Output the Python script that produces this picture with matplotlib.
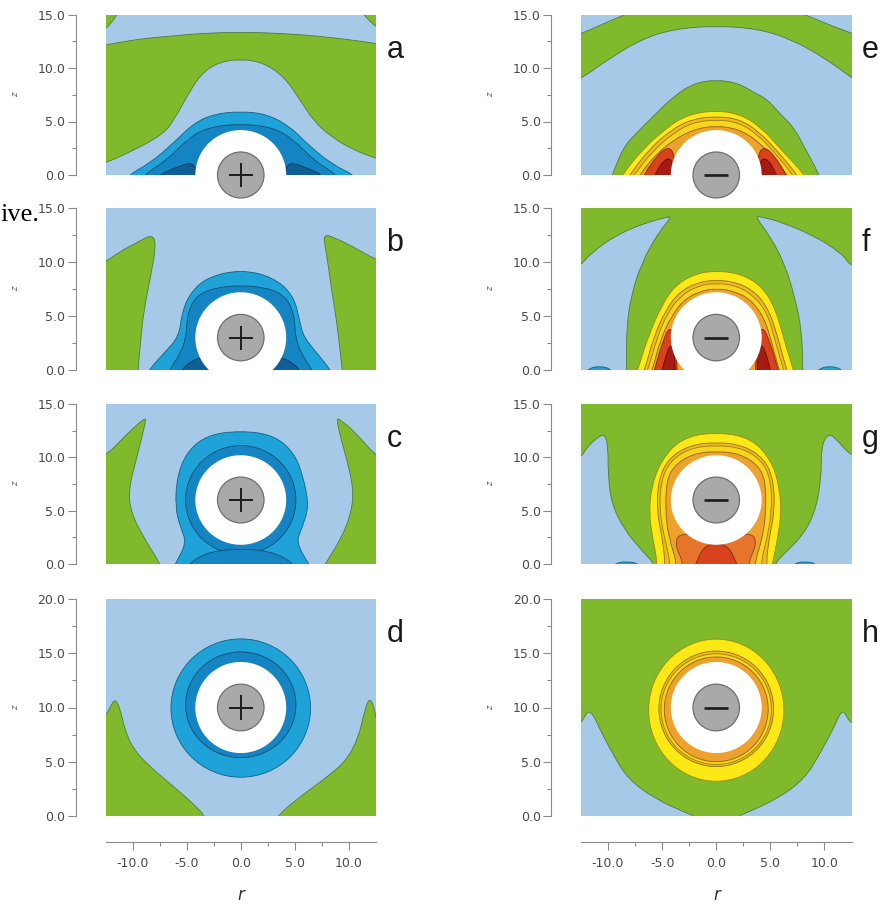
import numpy as np
import matplotlib
matplotlib.use("Agg")
import matplotlib.pyplot as plt
from matplotlib.path import Path
from matplotlib.patches import PathPatch, Circle, Ellipse
from matplotlib.colors import to_rgb

W, H = 882, 907

# colours of the contour levels
LBLUE = '#a5c9e6'
GREEN = '#80ba2c'
BLUE1 = '#1ea2d8'
BLUE2 = '#1584c2'
BLUE3 = '#0e5f96'
YELLOW = '#fbe814'
GOLD = '#efb720'
YELLOW2 = '#f8d51c'
ORANGE = '#eca22c'
ORANGE2 = '#e6742a'
RED = '#d8421c'
DRED = '#a51a12'

# ion heights above the surface and plot heights
ion_z = {'a': 0, 'b': 3, 'c': 6, 'd': 10, 'e': 0, 'f': 3, 'g': 6, 'h': 10}
z_top = {'a': 15, 'b': 15, 'c': 15, 'd': 20, 'e': 15, 'f': 15, 'g': 15, 'h': 20}
EXCL_R = 4.2      # white excluded zone
ION_R = 2.15      # grey ion

# ---- contour boundaries, (r, z) ----
# a  (cation at z = 0)
a_green_top = [(-13.5, -1), (-13.5, 12.0), (-12.5, 12.15), (-9.5, 12.7), (-6.8, 12.95), (-3.5, 13.25),
               (0, 13.35), (3.5, 13.25), (7.0, 13.0), (10.0, 12.65), (12.5, 12.3), (13.5, 12.1), (13.5, -1)]
a_corner_l = [(-13.5, 13.2), (-12.5, 13.65), (-11.9, 14.3), (-11.3, 15.2), (-11.0, 16), (-13.5, 16)]
a_corner_r = [(13.5, 13.4), (12.5, 13.85), (11.8, 14.5), (11.2, 15.2), (11.0, 16), (13.5, 16)]
a_bell = [(-13.5, -1), (-13.5, 0.9), (-12.5, 1.1), (-9.3, 2.6), (-7.1, 3.9), (-6.2, 5.1), (-5.0, 7.3),
          (-3.75, 9.35), (-2.2, 10.5), (0, 10.85), (2.1, 10.5), (4.0, 9.2), (5.5, 7.0), (6.7, 5.1),
          (8.3, 3.6), (10.4, 2.35), (12.5, 1.55), (13.5, 1.3), (13.5, -1)]
a_blue1 = [(-10.9, -1), (-10.4, 0), (-8.4, 1.1), (-6.2, 3.0), (-4.4, 4.8), (-2.5, 5.7), (0, 5.95),
           (2.4, 5.7), (4.6, 4.5), (6.4, 2.65), (8.6, 0.9), (10.5, 0), (11.0, -1)]
a_blue2 = [(-9.5, -1), (-9.0, 0), (-6.8, 1.4), (-5.0, 3.3), (-3.1, 4.45), (0, 4.8), (3.0, 4.45),
           (4.9, 3.3), (6.7, 1.4), (8.9, 0), (9.4, -1)]
a_blue3_l = [(-8.0, -1), (-7.6, 0), (-6.0, 0.7), (-4.6, 1.2), (-4.1, 0.6), (-4.1, -1)]
a_blue3_r = [(4.1, -1), (4.1, 0.6), (4.6, 1.2), (6.0, 0.7), (7.6, 0), (8.0, -1)]

# b  (cation at z = 3)
b_green_l = [(-13.5, -1), (-13.5, 9.8), (-12.5, 10.0), (-11.2, 10.95), (-9.3, 11.95), (-8.2, 12.55),
             (-7.8, 11.6), (-8.4, 8.3), (-9.0, 5.25), (-9.3, 2.2), (-9.5, 0), (-9.5, -1)]
b_green_r = [(13.5, -1), (13.5, 10.0), (12.5, 10.2), (10.4, 11.4), (8.6, 12.3), (7.6, 12.55),
             (7.9, 11.0), (8.4, 7.4), (8.9, 4.3), (9.2, 1.55), (9.4, 0), (9.4, -1)]
b_blue1 = [(-9.0, -1), (-8.5, 0), (-7.1, 1.55), (-5.7, 3.1), (-5.45, 5.25), (-4.7, 7.1), (-3.1, 8.6),
           (0, 9.3), (3.0, 8.6), (4.9, 6.9), (5.5, 4.3), (5.8, 3.1), (7.05, 1.55), (8.3, 0), (8.8, -1)]
b_blue2 = [(-7.0, -1), (-6.6, 0), (-5.6, 1.5), (-5.05, 3.0), (-5.0, 4.5), (-4.7, 5.8), (-4.0, 6.9),
           (-2.5, 7.6), (0, 7.85), (2.5, 7.6), (4.0, 6.9), (4.7, 5.8), (5.0, 4.5), (5.05, 3.0),
           (5.6, 1.5), (6.6, 0), (7.0, -1)]
b_blue3_l = [(-5.9, -1), (-5.5, 0), (-4.6, 0.8), (-3.6, 1.2), (-2.9, 0.4), (-2.9, -1)]
b_blue3_r = [(2.9, -1), (2.9, 0.4), (3.6, 1.2), (4.6, 0.8), (5.5, 0), (5.9, -1)]

# c  (cation at z = 6)
c_green_l = [(-13.5, -1), (-13.5, 9.9), (-12.4, 10.2), (-10.5, 12.2), (-9.2, 13.4), (-8.75, 13.7),
             (-8.9, 12.9), (-9.6, 10.0), (-10.4, 6.9), (-10.1, 4.7), (-9.0, 2.55), (-7.45, 0), (-7.0, -1)]
c_green_r = [(13.5, -1), (13.5, 9.8), (12.6, 10.0), (10.45, 12.5), (9.2, 13.5), (8.85, 13.7),
             (9.2, 11.9), (10.0, 9.1), (10.45, 6.6), (10.1, 4.4), (9.2, 2.25), (7.8, 0), (7.3, -1)]
c_blue1 = [(-6.5, -1), (-6.05, 0), (-5.0, 2.0), (-5.6, 3.5), (-6.05, 5.35), (-5.9, 8.15), (-5.0, 10.5),
           (-3.1, 12.1), (0, 12.5), (3.0, 12.1), (4.9, 10.5), (5.8, 8.15), (6.3, 5.35), (5.7, 3.5),
           (5.1, 2.0), (6.3, 0), (6.8, -1)]
c_ring = (6.0, 10.2, 10.2)            # centre z, width, height
c_arch = [(-5.2, -1), (-4.8, 0), (-3.5, 0.9), (-1.8, 1.3), (0, 1.4), (1.8, 1.3), (3.5, 0.9),
          (4.9, 0), (5.3, -1)]

# d  (cation at z = 10)
d_green_l = [(-13.5, -1), (-13.5, 9.0), (-12.5, 9.15), (-12.0, 10.2), (-11.6, 10.8), (-11.15, 9.9),
             (-10.7, 7.9), (-9.9, 6.1), (-8.4, 4.55), (-6.2, 2.7), (-4.4, 1.15), (-3.3, 0), (-3.0, -1)]
d_green_r = [(13.5, -1), (13.5, 8.4), (12.6, 8.5), (12.3, 10.2), (11.85, 10.9), (11.4, 9.5),
             (10.9, 7.3), (9.8, 5.15), (8.0, 3.6), (5.5, 1.8), (3.35, 0), (3.0, -1)]
d_ring1 = (9.95, 12.9, 12.75)
d_ring2 = (10.25, 10.2, 9.75)

# e  (anion at z = 0)
e_green_out = [(-13.5, -1), (-13.5, 12.9), (-12.5, 13.2), (-10.5, 14.1), (-8.2, 15.1), (-5.0, 16.2),
               (0, 16.8), (5.0, 16.2), (7.9, 15.1), (10.3, 14.1), (12.35, 13.3), (13.5, 12.9), (13.5, -1)]
e_blue_in = [(-13.5, -1), (-13.5, 8.6), (-12.5, 9.0), (-10.0, 10.8), (-6.9, 12.7), (-3.9, 13.65),
             (0, 13.95), (3.9, 13.65), (6.9, 12.7), (10.0, 10.95), (12.35, 9.2), (13.5, 8.5), (13.5, -1)]
e_green_dome = [(-10.0, -1), (-9.6, 0), (-8.6, 2.6), (-7.2, 4.1), (-5.8, 5.5), (-3.9, 7.4), (-2.0, 8.6),
                (0, 8.9), (2.0, 8.6), (3.5, 7.7), (4.7, 7.1), (5.8, 5.8), (7.15, 4.5), (8.3, 2.3),
                (9.3, 0.45), (9.9, -1)]
e_yellow = [(-9.2, -1), (-8.7, 0), (-6.9, 2.3), (-4.5, 4.5), (-2.6, 5.65), (0, 6.05), (2.3, 5.65),
            (4.2, 4.4), (6.0, 2.35), (8.2, 0), (8.7, -1)]
e_gold = [(-8.6, -1), (-8.0, 0), (-6.3, 2.3), (-4.2, 4.2), (-2.3, 5.2), (0, 5.5), (2.2, 5.2),
          (4.0, 4.0), (5.6, 2.3), (7.5, 0), (8.0, -1)]
e_yellow2 = [(-8.2, -1), (-7.6, 0), (-6.0, 2.1), (-4.0, 3.9), (-2.2, 4.9), (0, 5.2), (2.1, 4.9),
             (3.8, 3.8), (5.3, 2.2), (7.1, 0), (7.6, -1)]
e_orange = [(-7.6, -1), (-7.1, 0), (-5.6, 1.9), (-3.9, 3.3), (-2.0, 4.3), (0, 4.6), (2.0, 4.3),
            (3.7, 3.3), (5.0, 1.9), (6.6, 0), (7.1, -1)]
e_red_l = [(-7.0, -1), (-6.7, 0), (-5.5, 1.8), (-4.4, 2.7), (-3.8, 1.8), (-3.8, -1)]
e_red_r = [(3.8, -1), (3.8, 1.8), (4.4, 2.7), (5.4, 1.8), (6.5, 0), (6.8, -1)]
e_dred_l = [(-6.0, -1), (-5.7, 0), (-4.8, 1.5), (-4.0, 1.5), (-4.0, -1)]
e_dred_r = [(4.0, -1), (4.0, 1.5), (4.8, 1.5), (5.6, 0), (5.9, -1)]

# f  (anion at z = 3)
f_blue_l = [(-13.5, -1), (-13.5, 9.3), (-12.65, 9.55), (-11.6, 10.8), (-9.4, 12.4), (-6.9, 13.5),
            (-4.6, 14.15), (-4.1, 14.2), (-5.4, 12.65), (-6.9, 9.9), (-7.9, 6.8), (-8.3, 3.7),
            (-8.3, 0), (-8.3, -1)]
f_blue_r = [(13.5, -1), (13.5, 9.5), (12.35, 9.7), (11.6, 10.8), (9.1, 12.4), (6.0, 13.7),
            (4.1, 14.2), (3.6, 14.2), (4.9, 12.5), (6.3, 9.9), (7.25, 6.8), (7.9, 3.7), (8.0, 0), (8.0, -1)]
f_sliver_l = [(-12.3, -1), (-12.0, 0.05), (-10.8, 0.4), (-9.6, 0.05), (-9.3, -1)]
f_sliver_r = [(9.0, -1), (9.3, 0.05), (10.5, 0.4), (11.7, 0.05), (12.0, -1)]
f_yellow = [(-7.7, -1), (-7.25, 0), (-6.3, 3.1), (-5.1, 5.85), (-3.9, 7.75), (-2.0, 8.9), (0, 9.2),
            (2.3, 8.9), (4.2, 7.75), (5.4, 5.85), (6.2, 3.1), (7.1, 0), (7.5, -1)]
f_gold = [(-7.1, -1), (-6.6, 0), (-5.8, 3.0), (-4.7, 5.5), (-3.5, 7.15), (-1.8, 8.1), (0, 8.35),
          (2.0, 8.1), (3.7, 7.15), (4.9, 5.5), (5.7, 3.0), (6.5, 0), (6.9, -1)]
f_yellow2 = [(-6.8, -1), (-6.3, 0), (-5.5, 2.9), (-4.5, 5.3), (-3.3, 6.85), (-1.7, 7.8), (0, 8.05),
             (1.9, 7.8), (3.5, 6.85), (4.7, 5.3), (5.4, 2.9), (6.2, 0), (6.6, -1)]
f_orange = [(-6.4, -1), (-5.9, 0), (-5.2, 2.7), (-4.2, 4.9), (-3.0, 6.5), (-1.5, 7.3), (0, 7.55),
            (1.7, 7.3), (3.2, 6.5), (4.4, 4.9), (5.1, 2.7), (5.8, 0), (6.2, -1)]
f_red_l = [(-6.1, -1), (-5.7, 0), (-5.0, 2.5), (-4.3, 4.1), (-3.8, 3.0), (-3.6, 0), (-3.6, -1)]
f_red_r = [(3.6, -1), (3.6, 0), (3.8, 3.0), (4.3, 4.1), (5.0, 2.5), (5.7, 0), (6.1, -1)]
f_dred_l = [(-5.3, -1), (-5.0, 0), (-4.5, 1.9), (-4.1, 2.4), (-3.8, 1.0), (-3.8, -1)]
f_dred_r = [(3.8, -1), (3.8, 1.0), (4.1, 2.4), (4.5, 1.9), (5.0, 0), (5.3, -1)]

# g  (anion at z = 6)
g_blue_l = [(-13.5, -1), (-13.5, 9.8), (-12.5, 10.0), (-11.9, 11.0), (-11.0, 11.85), (-10.3, 12.2),
            (-10.0, 11.0), (-10.0, 8.5), (-9.7, 5.7), (-8.5, 3.2), (-6.65, 1.0), (-5.7, 0), (-5.4, -1)]
g_blue_r = [(13.5, -1), (13.5, 10.0), (12.35, 10.2), (11.0, 11.85), (10.3, 12.2), (9.7, 11.0),
            (9.7, 7.85), (9.1, 4.75), (7.9, 2.55), (6.3, 1.0), (5.4, 0), (5.1, -1)]
g_sliver_l = [(-9.8, -1), (-9.5, 0.03), (-8.3, 0.25), (-7.1, 0.03), (-6.8, -1)]
g_sliver_r = [(6.8, -1), (7.1, 0.03), (8.2, 0.25), (9.3, 0.03), (9.6, -1)]
g_yellow = [(-5.8, -1), (-5.4, 0), (-5.9, 2.55), (-6.2, 4.75), (-6.0, 7.2), (-5.1, 9.7), (-3.25, 11.8),
            (0, 12.4), (3.25, 11.8), (5.1, 9.7), (5.85, 7.2), (6.0, 4.75), (5.7, 2.55), (5.2, 0), (4.9, -1)]
g_gold = [(-5.0, -1), (-4.7, 0), (-5.0, 2.5), (-5.5, 5.0), (-5.35, 7.8), (-4.5, 9.8), (-2.6, 11.1),
          (0, 11.45), (2.6, 11.1), (4.5, 9.8), (5.3, 7.8), (5.4, 5.0), (4.9, 2.5), (4.6, 0), (4.9, -1)]
g_yellow2 = [(-4.5, -1), (-4.2, 0), (-4.8, 2.5), (-5.25, 5.0), (-5.1, 7.8), (-4.3, 9.6), (-2.5, 10.85),
             (0, 11.15), (2.5, 10.85), (4.3, 9.6), (5.05, 7.8), (5.15, 5.0), (4.7, 2.5), (4.1, 0), (4.4, -1)]
g_orange = [(-3.9, -1), (-3.6, 0), (-4.4, 2.5), (-4.7, 5.0), (-4.6, 7.8), (-3.9, 9.2), (-2.3, 10.3),
            (0, 10.6), (2.3, 10.3), (3.9, 9.2), (4.55, 7.8), (4.6, 5.0), (4.3, 2.5), (3.5, 0), (3.8, -1)]
g_orange2 = [(-3.4, -1), (-3.0, 0), (-3.9, 2.0), (-3.2, 3.0), (0, 2.2), (3.2, 3.0), (3.8, 2.0),
             (2.9, 0), (3.3, -1)]
g_red = [(-2.3, -1), (-1.9, 0), (-1.2, 1.6), (0, 2.0), (1.2, 1.6), (1.9, 0), (2.3, -1)]

# h  (anion at z = 10)
h_blue_l = [(-13.5, -1), (-13.5, 8.4), (-12.5, 8.55), (-12.1, 9.3), (-11.75, 9.7), (-11.3, 9.2),
            (-10.95, 8.4), (-9.7, 5.95), (-8.2, 3.45), (-5.7, 1.6), (-2.6, 0.2), (-2.0, 0), (-2.0, -1)]
h_blue_r = [(13.5, -1), (13.5, 8.4), (12.4, 8.55), (12.0, 9.3), (11.7, 9.7), (11.3, 9.2),
            (11.0, 8.4), (9.7, 5.95), (8.2, 3.45), (5.7, 1.6), (2.6, 0.2), (2.0, 0), (2.0, -1)]
h_ring1 = (9.75, 12.5, 13.1)
h_ring2 = (9.88, 10.6, 10.65)
h_ring3 = (9.85, 10.2, 10.2)
h_ring4 = (9.83, 9.6, 9.65)

layers = {
    'a': (LBLUE, [(a_green_top, GREEN), (a_corner_l, GREEN), (a_corner_r, GREEN), (a_bell, LBLUE),
                  (a_blue1, BLUE1), (a_blue2, BLUE2), (a_blue3_l, BLUE3), (a_blue3_r, BLUE3)]),
    'b': (LBLUE, [(b_green_l, GREEN), (b_green_r, GREEN), (b_blue1, BLUE1), (b_blue2, BLUE2),
                  (b_blue3_l, BLUE3), (b_blue3_r, BLUE3)]),
    'c': (LBLUE, [(c_green_l, GREEN), (c_green_r, GREEN), (c_blue1, BLUE1), (c_ring, BLUE2),
                  (c_arch, BLUE2)]),
    'd': (LBLUE, [(d_green_l, GREEN), (d_green_r, GREEN), (d_ring1, BLUE1), (d_ring2, BLUE2)]),
    'e': (LBLUE, [(e_green_out, GREEN), (e_blue_in, LBLUE), (e_green_dome, GREEN), (e_yellow, YELLOW),
                  (e_gold, GOLD), (e_yellow2, YELLOW2), (e_orange, ORANGE), (e_red_l, RED),
                  (e_red_r, RED), (e_dred_l, DRED), (e_dred_r, DRED)]),
    'f': (GREEN, [(f_blue_l, LBLUE), (f_blue_r, LBLUE), (f_sliver_l, BLUE1), (f_sliver_r, BLUE1),
                  (f_yellow, YELLOW), (f_gold, GOLD), (f_yellow2, YELLOW2), (f_orange, ORANGE),
                  (f_red_l, RED), (f_red_r, RED), (f_dred_l, DRED), (f_dred_r, DRED)]),
    'g': (GREEN, [(g_blue_l, LBLUE), (g_blue_r, LBLUE), (g_sliver_l, BLUE1), (g_sliver_r, BLUE1),
                  (g_yellow, YELLOW), (g_gold, GOLD), (g_yellow2, YELLOW2), (g_orange, ORANGE),
                  (g_orange2, ORANGE2), (g_red, RED)]),
    'h': (GREEN, [(h_blue_l, LBLUE), (h_blue_r, LBLUE), (h_ring1, YELLOW), (h_ring2, GOLD),
                  (h_ring3, YELLOW2), (h_ring4, ORANGE)]),
}


def edge_of(color):
    if color in (GREEN, LBLUE):
        return '#4f7a3c'
    return tuple(c * 0.6 for c in to_rgb(color))


def smooth_patch(pts, color, z):
    # quadratic bezier through the midpoints of the traced outline
    p = np.asarray(pts, float)
    verts = [p[0], (p[0] + p[1]) / 2]
    codes = [Path.MOVETO, Path.LINETO]
    for i in range(1, len(p) - 1):
        verts += [p[i], (p[i] + p[i + 1]) / 2]
        codes += [Path.CURVE3, Path.CURVE3]
    verts += [p[-1], p[0]]
    codes += [Path.LINETO, Path.CLOSEPOLY]
    return PathPatch(Path(verts, codes), facecolor=color, edgecolor=edge_of(color), lw=0.6, zorder=z)


fig = plt.figure(figsize=(W / 100, H / 100), dpi=100)

col_left = [105.5, 581]
row_top = [14.5, 208, 404, 599]
row_bot = [175, 370, 564, 816]
PW = 270.5
spine_col = '#8a8a8a'
lab_col = '#4a4a4a'

for ci, col in enumerate(['abcd', 'efgh']):
    for ri, key in enumerate(col):
        x0 = col_left[ci]
        ax = fig.add_axes([x0 / W, 1 - row_bot[ri] / H, PW / W, (row_bot[ri] - row_top[ri]) / H])
        bg, lay = layers[key]
        ax.set_facecolor(bg)
        ax.set_xlim(-12.5, 12.5)
        ax.set_ylim(0, z_top[key])
        for i, (shape, color) in enumerate(lay):
            if isinstance(shape, tuple):
                zc, w, h = shape
                ax.add_patch(Ellipse((0, zc), w, h, facecolor=color, edgecolor=edge_of(color),
                                     lw=0.6, zorder=2 + i))
            else:
                ax.add_patch(smooth_patch(shape, color, 2 + i))
        zc = ion_z[key]
        ax.add_patch(Circle((0, zc), EXCL_R, facecolor='white', edgecolor='none', zorder=40))
        ax.add_patch(Circle((0, zc), ION_R, facecolor='#a9a9a9', edgecolor='#6f6f6f', lw=0.9,
                            zorder=41, clip_on=False))
        s = 1.12
        ax.plot([-s, s], [zc, zc], color='#1c1c1c', lw=1.4 if ci == 0 else 1.9,
                zorder=42, clip_on=False, solid_capstyle='butt')
        if ci == 0:
            ax.plot([0, 0], [zc - s, zc + s], color='#1c1c1c', lw=1.4, zorder=42,
                    clip_on=False, solid_capstyle='butt')

        for sp in ['top', 'right']:
            ax.spines[sp].set_visible(False)
        ax.spines['left'].set_position(('outward', 21.5))
        ax.spines['left'].set_color(spine_col)
        ax.spines['left'].set_linewidth(0.8)
        ax.set_yticks(np.arange(0, z_top[key] + 0.1, 5.0))
        ax.set_yticks(np.arange(2.5, z_top[key], 5.0), minor=True)
        ax.set_yticklabels(['%.1f' % v for v in np.arange(0, z_top[key] + 0.1, 5.0)])
        ax.tick_params(axis='y', which='both', color=spine_col, width=0.8, labelsize=9,
                       labelcolor=lab_col, pad=1.5)
        ax.tick_params(axis='y', which='major', length=6)
        ax.tick_params(axis='y', which='minor', length=3)
        if ri == 3:
            ax.spines['bottom'].set_position(('outward', 18.7))
            ax.spines['bottom'].set_color(spine_col)
            ax.spines['bottom'].set_linewidth(0.8)
            ax.set_xticks([-10, -5, 0, 5, 10])
            ax.set_xticklabels(['-10.0', '-5.0', '0.0', '5.0', '10.0'])
            ax.set_xticks([-7.5, -2.5, 2.5, 7.5], minor=True)
            ax.tick_params(axis='x', which='both', color=spine_col, width=0.8, labelsize=9,
                           labelcolor=lab_col, pad=5)
            ax.tick_params(axis='x', which='major', length=6)
            ax.tick_params(axis='x', which='minor', length=3)
        else:
            ax.spines['bottom'].set_visible(False)
            ax.set_xticks([])

        # panel letter and z label
        fig.text((x0 + 281) / W, 1 - (row_top[ri] + 43) / H, key, fontsize=22,
                 family='Liberation Sans', color='#1a1a1a', ha='left', va='baseline')
        fig.text((x0 - 90) / W, 1 - (row_top[ri] + row_bot[ri]) / 2 / H, 'z', fontsize=6,
                 style='italic', color='#666666', rotation=90, ha='center', va='center')
    fig.text((x0 + 135.5) / W, 1 - 895 / H, 'r', fontsize=12, style='italic', color='#333333',
             ha='center', va='center')

# fragment of the page text next to the figure
fig.text(0, 1 - 221 / H, 'ive.', fontsize=19, family='Liberation Serif', color='black',
         ha='left', va='baseline')

fig.savefig('out.png', dpi=100, facecolor='white')
